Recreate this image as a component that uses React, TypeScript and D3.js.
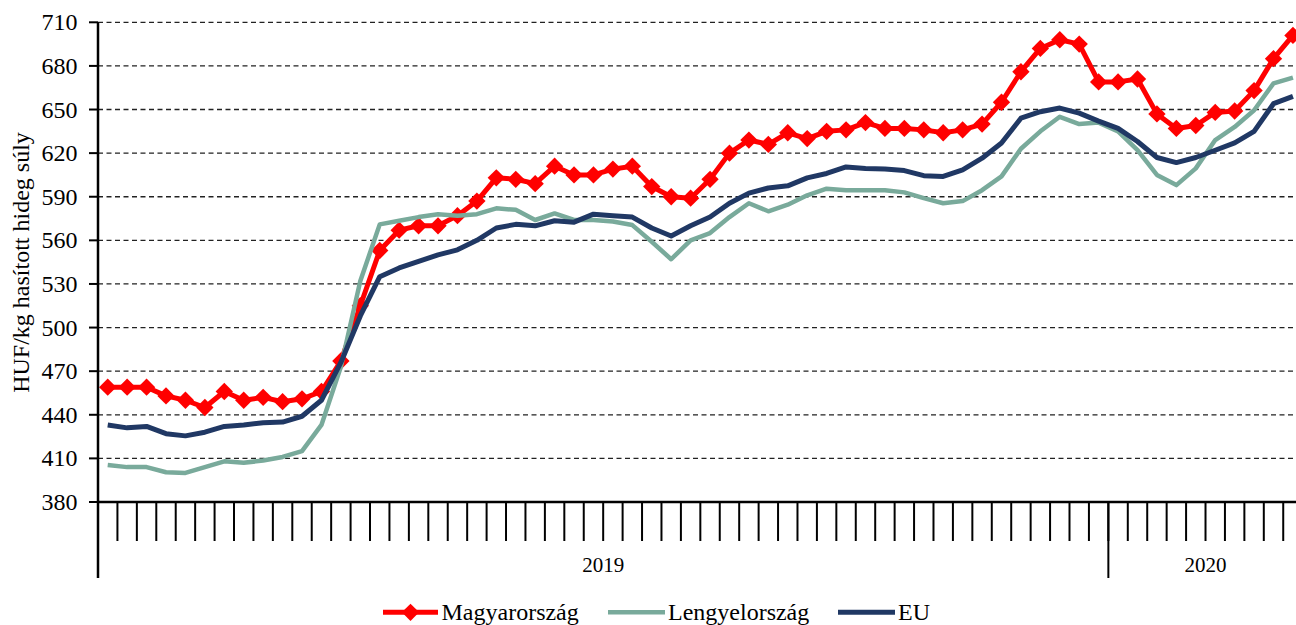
import React from "react";
import * as d3 from "d3";

const weeks: string[] = [
  ...Array.from({ length: 52 }, (_, i) => `${i + 1}`),
  ...Array.from({ length: 10 }, (_, i) => `${i + 1}`),
];
const years = [
  { label: "2019", count: 52 },
  { label: "2020", count: 10 },
];
const yTicks = [380, 410, 440, 470, 500, 530, 560, 590, 620, 650, 680, 710];

const magyarorszag = [
  459, 459, 459, 453, 450, 445, 456, 450, 452, 449, 451, 456,
  477, 515, 553, 567, 570, 570, 577, 587, 603, 602, 599, 611,
  605, 605, 609, 611, 597, 590, 589, 602, 620, 629, 626, 634,
  630, 635, 636, 641, 637, 637, 636, 634, 636, 640, 655, 676,
  692, 698, 695, 669, 669, 671, 647, 637, 639, 648, 649, 663, 685, 701,
];
const lengyelorszag = [
  405.5, 404, 404, 400.5, 400, 404, 408, 407, 408.5, 411, 415, 433,
  473, 532, 571, 573.5, 576, 578, 577, 578, 582, 581, 574, 578.5,
  574, 574, 573, 570.5, 559, 547, 560, 565, 576, 585.5, 580, 584.5,
  591, 595.5, 594.5, 594.5, 594.5, 593, 589, 585.5, 587, 594.5, 604, 623,
  635, 645, 640, 641, 635, 622, 605, 598, 609.5, 629, 638, 649.5, 668, 672,
];
const eu = [
  433, 431, 432, 427, 425.5, 428, 432, 433, 434.5, 435, 439, 450,
  476, 508, 535, 541, 545.5, 550, 553.5, 560, 568.5, 571, 570, 573.5,
  572.5, 578, 577, 576, 568.5, 563, 570, 576, 585.5, 592.5, 596, 597.5,
  603, 606, 610.5, 609.5, 609, 608, 604.5, 604, 608.5, 616.5, 627, 644,
  648.5, 651, 647.5, 642, 637, 628, 617, 613.5, 617, 622, 627, 635, 654, 659,
];

const series = [
  { name: "Magyarország", values: magyarorszag, color: "#FF0000", width: 5 },
  { name: "Lengyelország", values: lengyelorszag, color: "#79AA9B", width: 4.5 },
  { name: "EU", values: eu, color: "#203864", width: 5 },
];

const W = 1296;
const H = 625;
const left = 98;
const step = 19.43;
const top = 22.3;
const bottom = 502;
const font = "'Liberation Serif', 'Times New Roman', serif";

export default function App() {
  const x = d3
    .scaleBand<string>()
    .domain(weeks.map((_, i) => String(i)))
    .range([left, left + step * weeks.length])
    .paddingInner(0)
    .paddingOuter(0);
  const y = d3.scaleLinear().domain([380, 710]).range([bottom, top]);
  const cx = (i: number) => (x(String(i)) as number) + x.bandwidth() / 2;
  const line = d3
    .line<number>()
    .x((_, i) => cx(i))
    .y((d) => y(d));
  const diamond = d3.symbol(d3.symbolSquare, 150)() as string;

  let acc = 0;
  const yearBlocks = years.map((yr) => {
    const start = left + acc * x.step();
    acc += yr.count;
    const end = left + acc * x.step();
    return { ...yr, start, end };
  });

  const seriesPath = (s: (typeof series)[number]) => (
    <path
      key={s.name}
      d={line(s.values) as string}
      fill="none"
      stroke={s.color}
      strokeWidth={s.width}
      strokeLinejoin="round"
    />
  );

  return (
    <svg
      width={W}
      height={H}
      style={{ position: "absolute", left: 0, top: 0, background: "#fff" }}
      fontFamily={font}
    >
      {yTicks
        .filter((t) => t !== 380)
        .map((t) => (
          <line
            key={t}
            x1={left}
            x2={W}
            y1={y(t)}
            y2={y(t)}
            stroke="#222"
            strokeWidth={1.3}
            strokeDasharray="5,3.5"
          />
        ))}
      {yTicks.map((t) => (
        <g key={"yt" + t}>
          <line x1={left - 9} x2={left} y1={y(t)} y2={y(t)} stroke="#000" strokeWidth={2} />
          <text x={77.5} y={y(t) + 8} textAnchor="end" fontSize={24} fill="#000">
            {t}
          </text>
        </g>
      ))}
      <text
        transform={`translate(28.5,262.5) rotate(-90)`}
        textAnchor="middle"
        fontSize={24}
        fill="#000"
      >
        HUF/kg hasított hideg súly
      </text>
      {seriesPath(series[0])}
      {magyarorszag.map((v, i) => (
        <path
          key={"m" + i}
          d={diamond}
          transform={`translate(${cx(i)},${y(v)}) rotate(45)`}
          fill="#FF0000"
        />
      ))}
      {series.slice(1).map(seriesPath)}
      <line x1={left} x2={W} y1={bottom} y2={bottom} stroke="#000" strokeWidth={2.5} />
      <line x1={left} x2={left} y1={top} y2={578} stroke="#000" strokeWidth={2.5} />
      {weeks.map((_, i) =>
        i === 0 ? null : (
          <line
            key={"xt" + i}
            x1={left + i * x.step()}
            x2={left + i * x.step()}
            y1={bottom}
            y2={541}
            stroke="#000"
            strokeWidth={2}
          />
        )
      )}
      {yearBlocks.map((b, k) => (
        <g key={b.label}>
          {k > 0 && (
            <line x1={b.start} x2={b.start} y1={bottom} y2={578} stroke="#000" strokeWidth={2} />
          )}
          <text
            x={(b.start + b.end) / 2}
            y={572}
            textAnchor="middle"
            fontSize={21}
            fill="#000"
          >
            {b.label}
          </text>
        </g>
      ))}
      <g>
        <line x1={383} x2={438} y1={612.3} y2={612.3} stroke="#FF0000" strokeWidth={5} />
        <path d={diamond} transform="translate(410.5,612.3) rotate(45)" fill="#FF0000" />
        <text x={441.5} y={620} fontSize={24} fill="#000">
          Magyarország
        </text>
        <line x1={608} x2={665} y1={612.3} y2={612.3} stroke="#79AA9B" strokeWidth={4.5} />
        <text x={668} y={620} fontSize={24} fill="#000">
          Lengyelország
        </text>
        <line x1={838} x2={895} y1={612.3} y2={612.3} stroke="#203864" strokeWidth={5} />
        <text x={898} y={620} fontSize={24} fill="#000">
          EU
        </text>
      </g>
    </svg>
  );
}
